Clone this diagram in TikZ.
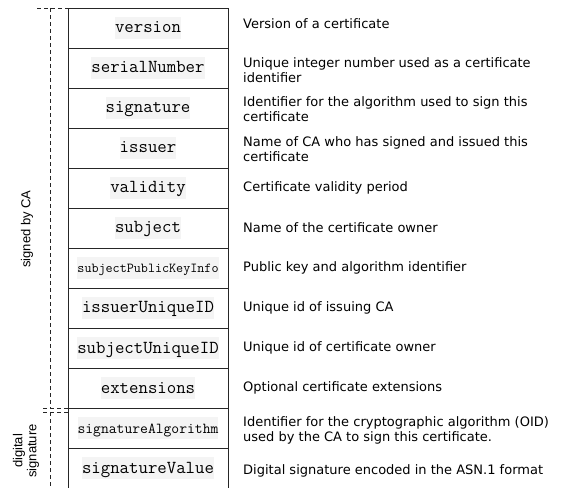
\documentclass[tikz,border=0pt]{standalone}
\usepackage{fontspec}
\setmainfont{DejaVu Sans}
\setsansfont{Liberation Sans}
\usetikzlibrary{positioning}
\definecolor{codebg}{HTML}{F4F4F4}
\newcommand{\codebox}[1]{{\setlength{\fboxsep}{0pt}\colorbox{codebg}{\rule[-6pt]{0pt}{22pt}\ttfamily #1}}}

\begin{document}
\begin{tikzpicture}[x=1pt,y=1pt,
  field/.style={draw=black!85,line width=0.9pt,minimum width=160pt,minimum height=40pt,inner sep=0pt,outer sep=0pt,font=\fontsize{18.3}{20}\selectfont},
  desc/.style={right=15pt of #1,align=left,inner sep=0pt,font=\fontsize{13}{15}\selectfont},
  grp/.style={dash pattern=on 4pt off 3pt,line width=0.9pt,draw=black!85},
  side/.style={rotate=90,align=center,inner sep=0pt,font=\sffamily\fontsize{13}{14}\selectfont}]
\useasboundingbox (0,0) rectangle (569,487);

% certificate fields
\node[field] (version) at (148,459) {\codebox{version}};
\node[field,below=0pt of version] (serial) {\codebox{serialNumber}};
\node[field,below=0pt of serial] (sign) {\codebox{signature}};
\node[field,below=0pt of sign] (issuer) {\codebox{issuer}};
\node[field,below=0pt of issuer] (validity) {\codebox{validity}};
\node[field,below=0pt of validity] (subject) {\codebox{subject}};
\node[field,below=0pt of subject,font=\fontsize{13.7}{15}\selectfont] (pubkey) {\codebox{subjectPublicKeyInfo}};
\node[field,below=0pt of pubkey] (issuerid) {\codebox{issuerUniqueID}};
\node[field,below=0pt of issuerid] (subjectid) {\codebox{subjectUniqueID}};
\node[field,below=0pt of subjectid] (ext) {\codebox{extensions}};
\node[field,below=0pt of ext,font=\fontsize{15.2}{17}\selectfont] (sigalg) {\codebox{signatureAlgorithm}};
\node[field,below=0pt of sigalg] (sigval) {\codebox{signatureValue}};

% descriptions
\node[desc=version,yshift=4pt] (versiontxt) {Version of a certificate};
\node[desc=serial,yshift=-2pt] (serialtxt) {Unique integer number used as a certificate\\identifier};
\node[desc=sign,yshift=-1pt] (signtxt) {Identifier for the algorithm used to sign this\\certificate};
\node[desc=issuer,yshift=-1pt] (issuertxt) {Name of CA who has signed and issued this\\certificate};
\node[desc=validity] (validitytxt) {Certificate validity period};
\node[desc=subject] (subjecttxt) {Name of the certificate owner};
\node[desc=pubkey] (pubkeytxt) {Public key and algorithm identifier};
\node[desc=issuerid] (issueridtxt) {Unique id of issuing CA};
\node[desc=subjectid] (subjectidtxt) {Unique id of certificate owner};
\node[desc=ext] (exttxt) {Optional certificate extensions};
\node[desc=sigalg,yshift=-2pt] (sigalgtxt) {Identifier for the cryptographic algorithm (OID)\\used by the CA to sign this certificate.};
\node[desc=sigval,yshift=-3pt] (sigvaltxt) {Digital signature encoded in the ASN.1 format};

% dashed groups
\draw[grp] ([xshift=-31pt]version.north west) -- (version.north west);
\draw[grp] ([xshift=-18pt]version.north west) -- ([xshift=-18pt]ext.south west);
\draw[grp] ([xshift=-25pt]ext.south west) -- (ext.south west);
\draw[grp] ([xshift=-25pt,yshift=-4pt]sigalg.north west) -- ([yshift=-4pt]sigalg.north west);
\draw[grp] ([xshift=-18pt,yshift=-4pt]sigalg.north west) -- ([xshift=-18pt]sigval.south west);
\node[side] (signedby) at (27,258) {signed by CA};
\node[side] (digsig) at (26,36) {digital\\signature};

\end{tikzpicture}
\end{document}
